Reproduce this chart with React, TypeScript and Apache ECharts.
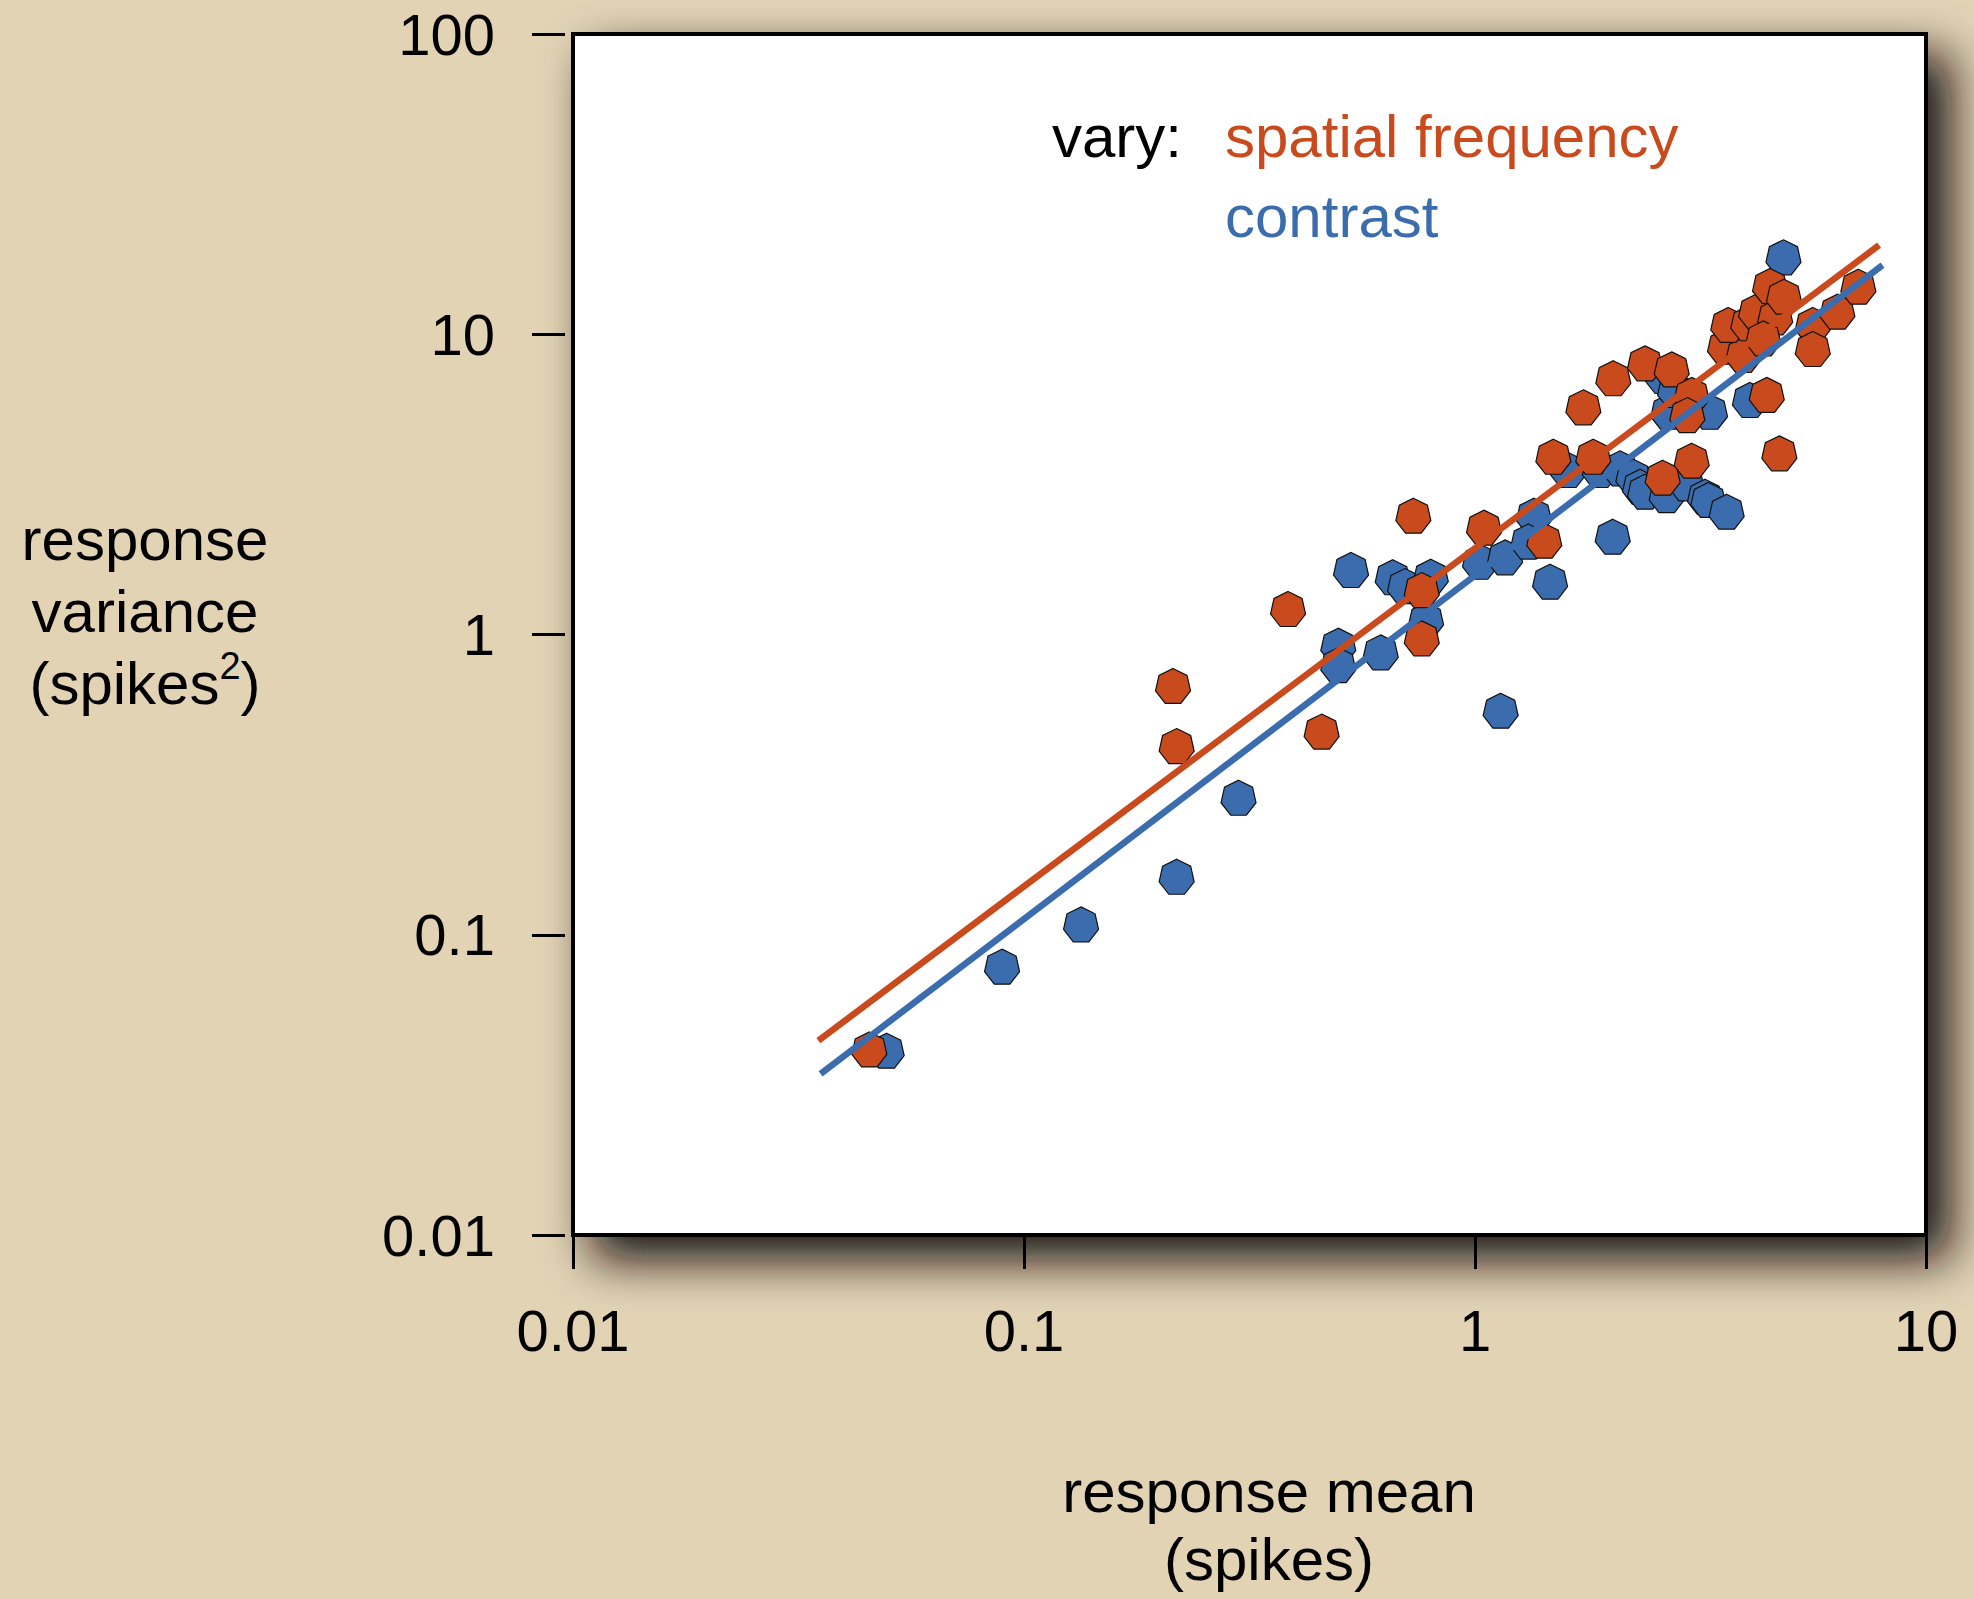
import React, { useEffect, useRef } from 'react';
import * as echarts from 'echarts';

// Tick labels
const xTickLabels = ['0.01', '0.1', '1', '10'];
const yTickLabels = ['0.01', '0.1', '1', '10', '100'];

// Series: vary spatial frequency (red)
const spatialMean = [
  0.0454, 0.218, 0.214, 0.385, 0.457, 0.73, 0.762, 0.762, 1.047, 1.424,
  1.492, 1.829, 2.607, 3.023, 4.73, 1.739, 2.026, 2.382, 2.73, 3.023,
  2.956, 4.435, 3.584, 3.936, 3.644, 4.036, 4.2, 4.63, 4.358, 4.51,
  4.843, 5.61, 5.61, 6.36, 7.08,
];
const spatialVar = [
  0.0415, 0.425, 0.674, 1.216, 0.475, 2.487, 1.406, 0.971, 2.269, 2.053,
  3.909, 3.909, 3.328, 3.792, 4.012, 5.71, 7.135, 8.0, 7.64, 6.28,
  5.38, 6.28, 9.09, 8.53, 10.74, 10.88, 11.89, 11.39, 9.69, 14.48,
  13.34, 10.74, 8.93, 11.89, 14.4,
];

// Series: vary contrast (blue)
const contrastMean = [
  0.0496, 0.0894, 0.1338, 0.218, 0.299, 0.531, 0.4976, 0.4976, 0.618, 0.657,
  0.6995, 0.798, 0.779, 1.026, 1.166, 1.351, 1.313, 1.467, 1.14, 2.02,
  1.61, 1.893, 2.097, 2.244, 2.322, 2.382, 2.661, 2.947, 3.236, 3.292,
  3.614, 4.83, 4.07, 2.683, 3.32, 2.61, 2.777,
];
const contrastVar = [
  0.0411, 0.0783, 0.1083, 0.156, 0.286, 1.64, 0.918, 0.791, 0.872, 1.551,
  1.45, 1.558, 1.118, 1.747, 1.807, 2.487, 2.04, 1.499, 0.5575, 2.117,
  3.531, 3.531, 3.577, 3.354, 3.107, 2.99, 2.914, 3.188, 2.877, 2.806,
  2.565, 18.04, 6.04, 5.52, 5.52, 7.26, 6.52,
];

// Fit lines (end points)
const spatialFitMean = [0.035, 7.87];
const spatialFitVar = [0.0444, 19.8];
const contrastFitMean = [0.0354, 8.01];
const contrastFitVar = [0.0344, 17.0];

const RED = '#c84a1d';
const BLUE = '#3b6cae';
const FONT = 'Liberation Sans, Arial, Helvetica, sans-serif';
const HEPTAGON =
  'path://M50 0L89.09 18.83L98.75 61.13L71.69 95.05L28.31 95.05L1.25 61.13L10.91 18.83Z';

const zip = (xs: number[], ys: number[]) => xs.map((x, i) => [x, ys[i]]);

export default function App() {
  const ref = useRef<HTMLDivElement>(null);

  useEffect(() => {
    if (!ref.current) return;
    const chart = echarts.init(ref.current, undefined, { renderer: 'svg' });
    const option: any = {
      animation: false,
      backgroundColor: '#e2d3b5',
      grid: {
        show: true,
        left: 573,
        right: 48,
        top: 34,
        bottom: 364,
        backgroundColor: '#ffffff',
        borderColor: '#000000',
        borderWidth: 4,
        shadowColor: 'rgba(20,16,8,1)',
        shadowBlur: 48,
        shadowOffsetX: 22,
        shadowOffsetY: 22,
      },
      xAxis: {
        type: 'log',
        logBase: 10,
        min: 0.01,
        max: 10,
        splitNumber: 3,
        axisLine: { show: false },
        splitLine: { show: false },
        axisTick: { show: true, inside: false, length: 34, lineStyle: { color: '#000', width: 3 } },
        axisLabel: {
          margin: 66,
          fontSize: 58,
          fontFamily: FONT,
          color: '#000',
          showMinLabel: true,
          showMaxLabel: true,
          formatter: (v: number) => xTickLabels[Math.round(Math.log10(v)) + 2],
        },
      },
      yAxis: {
        type: 'log',
        logBase: 10,
        min: 0.01,
        max: 100,
        splitNumber: 4,
        offset: 8,
        axisLine: { show: false },
        splitLine: { show: false },
        axisTick: { show: true, inside: false, length: 33, lineStyle: { color: '#000', width: 3 } },
        axisLabel: {
          margin: 70,
          fontSize: 58,
          fontFamily: FONT,
          color: '#000',
          showMinLabel: true,
          showMaxLabel: true,
          formatter: (v: number) => yTickLabels[Math.round(Math.log10(v)) + 2],
        },
      },
      series: [
        {
          type: 'line',
          data: zip(contrastFitMean, contrastFitVar),
          showSymbol: false,
          lineStyle: { color: BLUE, width: 6.5 },
          silent: true,
        },
        {
          type: 'line',
          data: zip(spatialFitMean, spatialFitVar),
          showSymbol: false,
          lineStyle: { color: RED, width: 6.5 },
          silent: true,
        },
        {
          type: 'scatter',
          name: 'contrast',
          data: zip(contrastMean, contrastVar),
          symbol: HEPTAGON,
          symbolSize: 35,
          itemStyle: { color: BLUE, borderColor: '#111', borderWidth: 1.2, opacity: 1 },
        },
        {
          type: 'scatter',
          name: 'spatial frequency',
          data: zip(spatialMean, spatialVar),
          symbol: HEPTAGON,
          symbolSize: 35,
          itemStyle: { color: RED, borderColor: '#111', borderWidth: 1.2, opacity: 1 },
        },
      ],
      graphic: [
        {
          type: 'text',
          x: 145,
          y: 611,
          style: {
            text: '{a|response}\n{a|variance}\n{a|(spikes}{s|2}{a|)}',
            align: 'center',
            verticalAlign: 'middle',
            rich: {
              a: { fontSize: 60, lineHeight: 72, fontFamily: FONT, fill: '#000', align: 'center' },
              s: { fontSize: 38, lineHeight: 26, fontFamily: FONT, fill: '#000', align: 'center', verticalAlign: 'top' },
            },
          },
        },
        {
          type: 'text',
          x: 1269,
          y: 1525,
          style: {
            text: 'response mean\n(spikes)',
            fontSize: 60,
            lineHeight: 68,
            fontFamily: FONT,
            fill: '#000',
            align: 'center',
            verticalAlign: 'middle',
          },
        },
        {
          type: 'text',
          x: 1052,
          y: 136,
          style: { text: 'vary:', fontSize: 60, fontFamily: FONT, fill: '#000', align: 'left', verticalAlign: 'middle' },
        },
        {
          type: 'text',
          x: 1225,
          y: 136,
          style: { text: 'spatial frequency', fontSize: 60, fontFamily: FONT, fill: RED, align: 'left', verticalAlign: 'middle' },
        },
        {
          type: 'text',
          x: 1225,
          y: 216,
          style: { text: 'contrast', fontSize: 60, fontFamily: FONT, fill: BLUE, align: 'left', verticalAlign: 'middle' },
        },
      ],
    };
    chart.setOption(option);
    return () => chart.dispose();
  }, []);

  return (
    <div
      ref={ref}
      style={{ position: 'fixed', left: 0, top: 0, width: 1974, height: 1599 }}
    />
  );
}
